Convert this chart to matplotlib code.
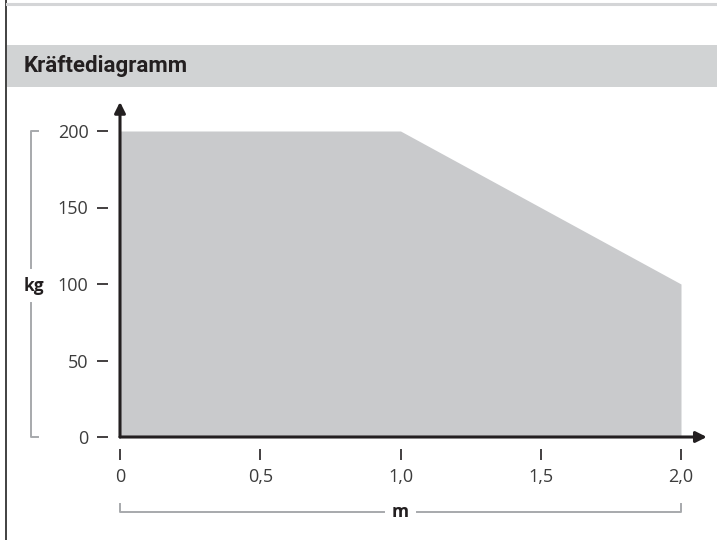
import matplotlib.pyplot as plt
from matplotlib.lines import Line2D
from matplotlib.patches import Rectangle

# load curve: allowed load over lever arm
distance_m = [0.0, 1.0, 2.0]
load_kg = [200, 200, 100]

x_ticks = [0.0, 0.5, 1.0, 1.5, 2.0]
x_labels = ['0', '0,5', '1,0', '1,5', '2,0']
y_ticks = [0, 50, 100, 150, 200]
y_labels = ['0', '50', '100', '150', '200']

title = 'Kräftediagramm'
x_unit = 'm'
y_unit = 'kg'

W, H = 717, 540
dark = '#231f20'
fill_grey = '#c9cacc'
band_grey = '#d1d3d4'
bracket_grey = '#a7a9ac'
text_grey = '#3c3c3c'

plt.rcParams['font.family'] = ['Open Sans', 'DejaVu Sans']

fig = plt.figure(figsize=(W / 100, H / 100), dpi=100)


def fx(px):
    return px / W


def fy(py):
    return 1 - py / H


# page frame: left rule, thin top rule and title band
fig.add_artist(Line2D([fx(6), fx(6)], [0, 1], color='#333333', lw=1.3))
fig.add_artist(Line2D([fx(7), 1], [fy(3.5), fy(3.5)], color='#d4d5d7', lw=2.2))
fig.add_artist(Rectangle((fx(7), fy(87)), 1 - fx(7), (87 - 45) / H,
                         color=band_grey, lw=0))
fig.text(fx(24), fy(66), title, fontsize=16, fontweight='bold',
         family=['Roboto', 'DejaVu Sans'],
         color=dark, va='center', ha='left')

# chart area: x 0..2 -> px 120..681, y 0..200 -> px 437..131
ax = fig.add_axes([fx(120), fy(437), fx(681) - fx(120), (437 - 131) / H])
ax.set_xlim(0, 2.0)
ax.set_ylim(0, 200)
ax.patch.set_visible(False)

ax.fill_between(distance_m, load_kg, 0, color=fill_grey, lw=0)

for side in ['top', 'right']:
    ax.spines[side].set_visible(False)
ax.spines['left'].set_position(('outward', 8.6))
ax.spines['bottom'].set_position(('outward', 8.6))
ax.spines['left'].set_color('none')
ax.spines['bottom'].set_color('none')

ax.set_xticks(x_ticks, x_labels)
ax.set_yticks(y_ticks, y_labels)
ax.tick_params(axis='both', length=8, width=1.2, color=dark,
               labelsize=13, labelcolor=text_grey)
ax.tick_params(axis='y', pad=6)
ax.tick_params(axis='x', pad=6)

# axis arrows
arrow = dict(arrowstyle='-|>', lw=2.2, color=dark, mutation_scale=16,
             shrinkA=0, shrinkB=0)
ax.annotate('', xy=(2.092, 0), xytext=(0, 0), arrowprops=arrow,
            annotation_clip=False)
ax.annotate('', xy=(0, 219), xytext=(0, 0), arrowprops=arrow,
            annotation_clip=False)

# unit brackets
yb = ax.get_yaxis_transform()
bx = -0.159
cap = 0.012
ax.plot([bx + cap, bx, bx], [200, 200, 110.5], transform=yb, color=bracket_grey,
        lw=1.4, clip_on=False)
ax.plot([bx, bx, bx + cap], [87.5, 0, 0], transform=yb, color=bracket_grey,
        lw=1.4, clip_on=False)
ax.text(bx + 0.006, 98.5, y_unit, transform=yb, ha='center', va='center',
        fontsize=12.5, fontweight='bold', color=dark)

xb = ax.get_xaxis_transform()
by = -0.245
ax.plot([0, 0, 0.94], [by + 0.025, by, by], transform=xb, color=bracket_grey,
        lw=1.4, clip_on=False)
ax.plot([1.06, 2.0, 2.0], [by, by, by + 0.025], transform=xb, color=bracket_grey,
        lw=1.4, clip_on=False)
ax.text(1.0, by, x_unit, transform=xb, ha='center', va='center',
        fontsize=12.5, fontweight='bold', color=dark)

fig.savefig('out.png', dpi=100)
